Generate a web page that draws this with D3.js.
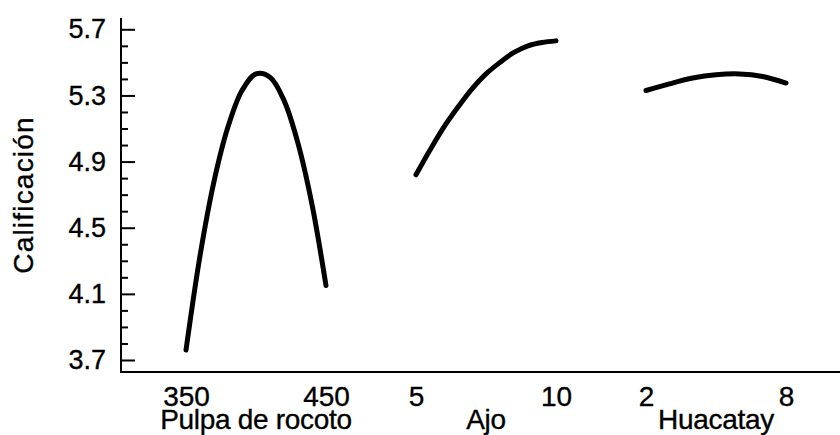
<!DOCTYPE html>
<html>
<head>
<meta charset="utf-8">
<script src="https://cdn.jsdelivr.net/npm/d3@7"></script>
<style>
  html, body { margin: 0; padding: 0; background: #fff; }
  svg { display: block; }
  text { font-family: "Liberation Sans", Arial, Helvetica, sans-serif; fill: #000; stroke: #000; stroke-width: 0.35px; }
</style>
</head>
<body>
<svg id="chart" width="840" height="435"></svg>
<script>
// Main-effects curves for the overall score (Calificación)
const factorNames = ["Pulpa de rocoto", "Ajo", "Huacatay"];

const pulpaLevels = [350, 360, 370, 380, 390, 400, 410, 420, 430, 440, 450];
const pulpaScores = [3.76, 4.33, 4.78, 5.11, 5.33, 5.43, 5.41, 5.27, 5.01, 4.64, 4.15];

const ajoLevels = [5, 5.5, 6, 6.5, 7, 7.5, 8, 8.5, 9, 9.5, 10];
const ajoScores = [4.82, 4.97, 5.11, 5.23, 5.34, 5.43, 5.50, 5.56, 5.60, 5.62, 5.63];

const huacatayLevels = [2, 3, 4, 5, 6, 7, 8];
const huacatayScores = [5.33, 5.37, 5.405, 5.425, 5.43, 5.415, 5.375];

const yTickValues = [3.7, 4.1, 4.5, 4.9, 5.3, 5.7];
const xTickValues = [[350, 450], [5, 10], [2, 8]];
const yTitle = "Calificación";

const panels = [
  { name: factorNames[0], levels: pulpaLevels, scores: pulpaScores, ticks: xTickValues[0] },
  { name: factorNames[1], levels: ajoLevels, scores: ajoScores, ticks: xTickValues[1] },
  { name: factorNames[2], levels: huacatayLevels, scores: huacatayScores, ticks: xTickValues[2] }
];

// layout
const axisX = 121, axisBottom = 372, axisTop = 18;
const panelStart = 186, panelWidth = 140, panelStep = 230;

const svg = d3.select("#chart");

const y = d3.scaleLinear().domain([3.7, 5.7]).range([360, 29.3]);

// frame lines
svg.append("line")
  .attr("x1", axisX).attr("x2", axisX)
  .attr("y1", axisTop).attr("y2", axisBottom + 1)
  .attr("stroke", "#000").attr("stroke-width", 2);
svg.append("line")
  .attr("x1", axisX - 1).attr("x2", 840)
  .attr("y1", axisBottom).attr("y2", axisBottom)
  .attr("stroke", "#000").attr("stroke-width", 2);

// minor y ticks every 0.1
const minorTicks = d3.range(37, 58).map(v => v / 10)
  .filter(v => !yTickValues.some(t => Math.abs(t - v) < 1e-6));
const minorAxis = svg.append("g")
  .attr("transform", `translate(${axisX},0)`)
  .call(d3.axisLeft(y).tickValues(minorTicks).tickSizeInner(-7).tickSizeOuter(0).tickFormat(""));
minorAxis.select(".domain").remove();
minorAxis.selectAll(".tick line").attr("stroke", "#000").attr("stroke-width", 2);

// major y ticks with labels
const majorAxis = svg.append("g")
  .attr("transform", `translate(${axisX},0)`)
  .call(d3.axisLeft(y).tickValues(yTickValues).tickSizeInner(-14).tickSizeOuter(0)
    .tickPadding(15).tickFormat(d3.format(".1f")));
majorAxis.select(".domain").remove();
majorAxis.selectAll(".tick line").attr("stroke", "#000").attr("stroke-width", 2);
majorAxis.selectAll(".tick text")
  .attr("font-size", 27).attr("fill", "#000")
  .style("font-family", "'Liberation Sans', Arial, sans-serif");

// y title
svg.append("text")
  .attr("transform", "translate(33,195) rotate(-90)")
  .attr("text-anchor", "middle")
  .attr("font-size", 28)
  .attr("letter-spacing", 1.2)
  .text(yTitle);

const line = d3.line().curve(d3.curveCatmullRom.alpha(0.5));

panels.forEach((p, i) => {
  const x0 = panelStart + i * panelStep;
  const x = d3.scaleLinear().domain(d3.extent(p.ticks)).range([x0, x0 + panelWidth]);

  const ax = svg.append("g")
    .attr("transform", `translate(0,${axisBottom})`)
    .call(d3.axisBottom(x).tickValues(p.ticks).tickSize(0).tickPadding(14).tickFormat(d3.format("d")));
  ax.select(".domain").remove();
  ax.selectAll(".tick text")
    .attr("font-size", 28).attr("fill", "#000")
    .style("font-family", "'Liberation Sans', Arial, sans-serif");

  svg.append("text")
    .attr("x", x0 + panelWidth / 2)
    .attr("y", 429)
    .attr("text-anchor", "middle")
    .attr("font-size", 28)
    .attr("letter-spacing", -0.3)
    .text(p.name);

  svg.append("path")
    .datum(p.levels.map((lv, k) => [x(lv), y(p.scores[k])]))
    .attr("d", line)
    .attr("fill", "none")
    .attr("stroke", "#000")
    .attr("stroke-width", 5)
    .attr("stroke-linejoin", "round")
    .attr("stroke-linecap", "round");
});
</script>
</body>
</html>
